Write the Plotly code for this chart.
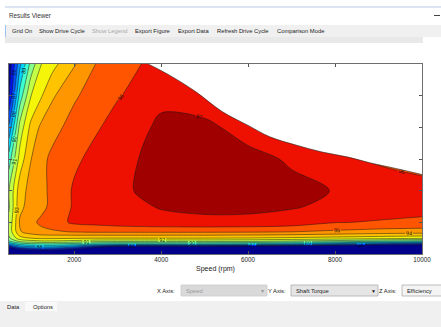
import plotly.graph_objects as go

# ---------------- data ----------------
speeds = [500, 750, 1000, 1250, 1500, 2000, 2500, 3000, 3500, 4000, 5000, 6000, 7000, 8000, 9000, 10000]
torques = [0, 5, 10, 15, 20, 25, 35, 50, 75, 100, 150, 200, 250, 300]

eff_t000 = [0, 0, 0, 0, 0, 0, 0, 0, 0, 0, 0, 0, 0, 0, 0, 0]
eff_t005 = [80.0, 83.0, 84.0, 84.2, 84.2, 83.0, 78.0, 74.0, 72.0, 71.0, 70.0, 70.0, 69.0, 68.0, 66.0, 65.0]
eff_t010 = [84.5, 86.8, 87.3, 87.5, 87.5, 86.5, 84.5, 82.5, 82.0, 82.0, 82.0, 81.5, 81.0, 80.0, 79.0, 78.0]
eff_t015 = [87.5, 89.0, 89.4, 89.5, 89.5, 89.2, 88.8, 88.5, 88.5, 88.5, 88.5, 88.3, 87.8, 87.0, 86.0, 85.5]
eff_t020 = [89.8, 91.2, 91.6, 91.8, 91.8, 91.6, 91.3, 91.2, 91.2, 91.2, 91.2, 91.1, 90.8, 90.5, 89.9, 89.5]
eff_t025 = [90.8, 92.6, 93.0, 93.2, 93.2, 93.1, 93.0, 93.0, 93.0, 93.0, 93.0, 92.95, 92.8, 92.6, 92.4, 92.2]
eff_t035 = [91.3, 93.9, 94.5, 94.75, 94.85, 95.05, 95.15, 95.15, 95.15, 95.15, 95.15, 95.1, 95.0, 94.8, 94.6, 94.5]
eff_t050 = [91.2, 94.11, 94.75, 95.2, 95.53, 96.19, 96.35, 96.55, 96.68, 96.75, 96.82, 96.8, 96.6, 96.05, 95.92, 95.8]
eff_t075 = [90.9, 93.78, 94.36, 94.76, 95.25, 96.12, 96.4, 96.64, 96.88, 97.06, 97.18, 97.18, 97.08, 96.8, 96.5, 96.37]
eff_t100 = [91.0, 93.58, 94.33, 94.75, 95.25, 96.12, 96.45, 96.77, 97.08, 97.25, 97.38, 97.35, 97.2, 96.97, 96.6, 96.35]
eff_t150 = [89.5, 92.41, 93.96, 94.76, 95.21, 95.83, 96.28, 96.65, 97.02, 97.2, 97.35, 97.25, 96.9, 96.3, 95.85, 95.6]
eff_t200 = [87.2, 91.37, 93.26, 94.24, 94.69, 95.36, 95.9, 96.32, 96.71, 97.25, 97.2, 96.66, 95.9, 95.4, 94.9, 94.4]
eff_t250 = [84.9, 89.4, 91.95, 92.94, 93.86, 94.87, 95.44, 95.94, 96.25, 96.7, 96.5, 95.8, 95.2, 94.7, 94.2, 93.7]
eff_t300 = [84.3, 87.75, 90.3, 92.03, 92.68, 93.9, 95.02, 95.5, 95.99, 96.1, 95.9, 95.5, 95.0, 94.5, 94.0, 93.5]

efficiency = [eff_t000, eff_t005, eff_t010, eff_t015, eff_t020, eff_t025, eff_t035,
              eff_t050, eff_t075, eff_t100, eff_t150, eff_t200, eff_t250, eff_t300]

# maximum-torque envelope (area above it is blank)
env_speed = [3700, 4200, 4800, 5400, 6000, 6500, 7100, 7700, 8300, 8800, 9400, 10000]
env_torque = [300, 282, 256, 225, 203, 185, 172, 161, 153, 144, 135, 125.5]

x_ticks = [2000, 4000, 6000, 8000, 10000]
y_ticks = [0, 50, 100, 150, 200, 250, 300]
speed_range = [500, 10000]
torque_range = [0, 300]

levels = dict(start=85, end=97, size=1)
band_colors = ['#00008C', '#0014E6', '#0050FF', '#0096FF', '#00D2FF', '#3CFFD2', '#87FF8C',
               '#C3FF46', '#F5F50A', '#FFC300', '#FF9600', '#FF5500', '#EE1000', '#A00000']

toolbar_items = ['Grid On', 'Show Drive Cycle', 'Show Legend', 'Export Figure',
                 'Export Data', 'Refresh Drive Cycle', 'Comparison Mode']
toolbar_x = [10, 37, 90, 133, 176, 215, 275]
toolbar_disabled = [False, False, True, False, False, False, False]

# ---------------- figure ----------------
W, H = 441, 327
PL, PR, PT, PB = 9, 422, 64, 254
FONT = 'Liberation Sans, Arial, sans-serif'


def fx(px):
    return (px - PL) / (PR - PL)


def fy(py):
    return (PB - py) / (PB - PT)


# step colour scale: one colour per band
n = len(band_colors)
bounds = [0.0] + [j / (n - 1) for j in range(1, n - 1)] + [(n - 1.2) / (n - 1), 1.0]
colorscale = []
for j, c in enumerate(band_colors):
    colorscale.append([bounds[j], c])
    colorscale.append([bounds[j + 1], c])

fig = go.Figure()
fig.add_trace(go.Contour(
    x=speeds, y=torques, z=efficiency,
    contours=dict(coloring='fill', showlabels=True,
                  labelfont=dict(size=5.5, color='#111111', family=FONT), **levels),
    line=dict(color='#1a1a1a', width=0.5, smoothing=1.0),
    colorscale=colorscale, showscale=False, hoverinfo='skip'))

fig.add_trace(go.Scatter(x=env_speed, y=[torque_range[1]] * len(env_speed), mode='lines',
                         line=dict(width=0, color='white'), hoverinfo='skip', showlegend=False))
fig.add_trace(go.Scatter(x=env_speed, y=env_torque, mode='lines', fill='tonexty',
                         fillcolor='white', line=dict(color='#262626', width=0.6, shape='spline'),
                         hoverinfo='skip', showlegend=False))

shapes = []
ann = []


def rect(x0, y0, x1, y1, fill, line=None, lw=0):
    shapes.append(dict(type='rect', xref='paper', yref='paper', x0=fx(x0), x1=fx(x1),
                       y0=fy(y1), y1=fy(y0), fillcolor=fill,
                       line=dict(color=line or fill, width=lw), layer='below'))


def hline(x0, x1, y, color, w=1):
    shapes.append(dict(type='line', xref='paper', yref='paper', x0=fx(x0), x1=fx(x1),
                       y0=fy(y), y1=fy(y), line=dict(color=color, width=w), layer='below'))


def text(px, py, s, size=6.0, color='#222222', anchor='left'):
    ann.append(dict(xref='paper', yref='paper', x=fx(px), y=fy(py), text=s, showarrow=False,
                    xanchor=anchor, yanchor='middle', font=dict(size=size, color=color, family=FONT)))


# header
hline(5, 441, 7, '#B9CCE4', 1)
text(7, 15.5, 'Results Viewer', 6.3, '#333333')
hline(434, 440, 15.5, '#444444', 1)

# toolbar
rect(5, 25, 441, 37, '#F0F0F0')
shapes.append(dict(type='line', xref='paper', yref='paper', x0=fx(5.5), x1=fx(5.5),
                   y0=fy(37), y1=fy(25), line=dict(color='#9DC3F0', width=1), layer='below'))
rect(5, 37, 423, 43, '#E9E9E9')
for s, x, dis in zip(toolbar_items, toolbar_x, toolbar_disabled):
    text(x, 31, s, 5.8, '#A8A8A8' if dis else '#222222')

# axis selectors
text(177, 290.5, 'X Axis:', 5.8, '#222222', 'right')
rect(181, 285, 267, 296, '#D9D9D9', '#CCCCCC', 0.8)
text(184, 290.5, 'Speed', 5.8, '#9A9A9A')
text(259, 290.5, '▾', 6, '#9A9A9A')
text(288, 290.5, 'Y Axis:', 5.8, '#222222', 'right')
rect(291, 285, 378, 296, '#E5E5E5', '#ADADAD', 0.8)
text(294, 290.5, 'Shaft Torque', 5.8, '#222222')
text(369, 290.5, '▼', 5, '#222222')
text(399, 290.5, 'Z Axis:', 5.8, '#222222', 'right')
rect(402, 285, 446, 296, '#F4F4F4', '#ADADAD', 0.8)
text(405, 290.5, 'Efficiency', 5.8, '#222222')

# bottom tab panel
rect(0, 301, 441, 327, '#F0F0F0')
rect(25, 302, 57, 311, '#F9F9F9')
text(5, 306.5, 'Data', 5.8, '#222222')
text(31, 306.5, 'Options', 5.8, '#222222')

axis_common = dict(showline=True, linecolor='#6E6E6E', linewidth=0.8, mirror='ticks',
                   ticks='inside', ticklen=3, tickwidth=0.6, tickcolor='#555555',
                   showgrid=False, zeroline=False)

fig.update_layout(
    width=W, height=H,
    margin=dict(l=PL, r=W - PR, t=PT, b=H - PB, pad=0, autoexpand=False),
    paper_bgcolor='white', plot_bgcolor='white',
    showlegend=False,
    xaxis=dict(range=speed_range, tickvals=x_ticks, tickformat='d',
               tickfont=dict(size=6.3, color='#222222', family=FONT),
               title=dict(text='Speed (rpm)', font=dict(size=7, color='#222222', family=FONT), standoff=3),
               **axis_common),
    yaxis=dict(range=torque_range, tickvals=y_ticks, showticklabels=False, **axis_common),
    shapes=shapes, annotations=ann,
    font=dict(family=FONT),
)

fig.write_html('out.html', config={'displayModeBar': False},
               post_script="document.body.style.margin='0';document.body.style.overflow='hidden';")
